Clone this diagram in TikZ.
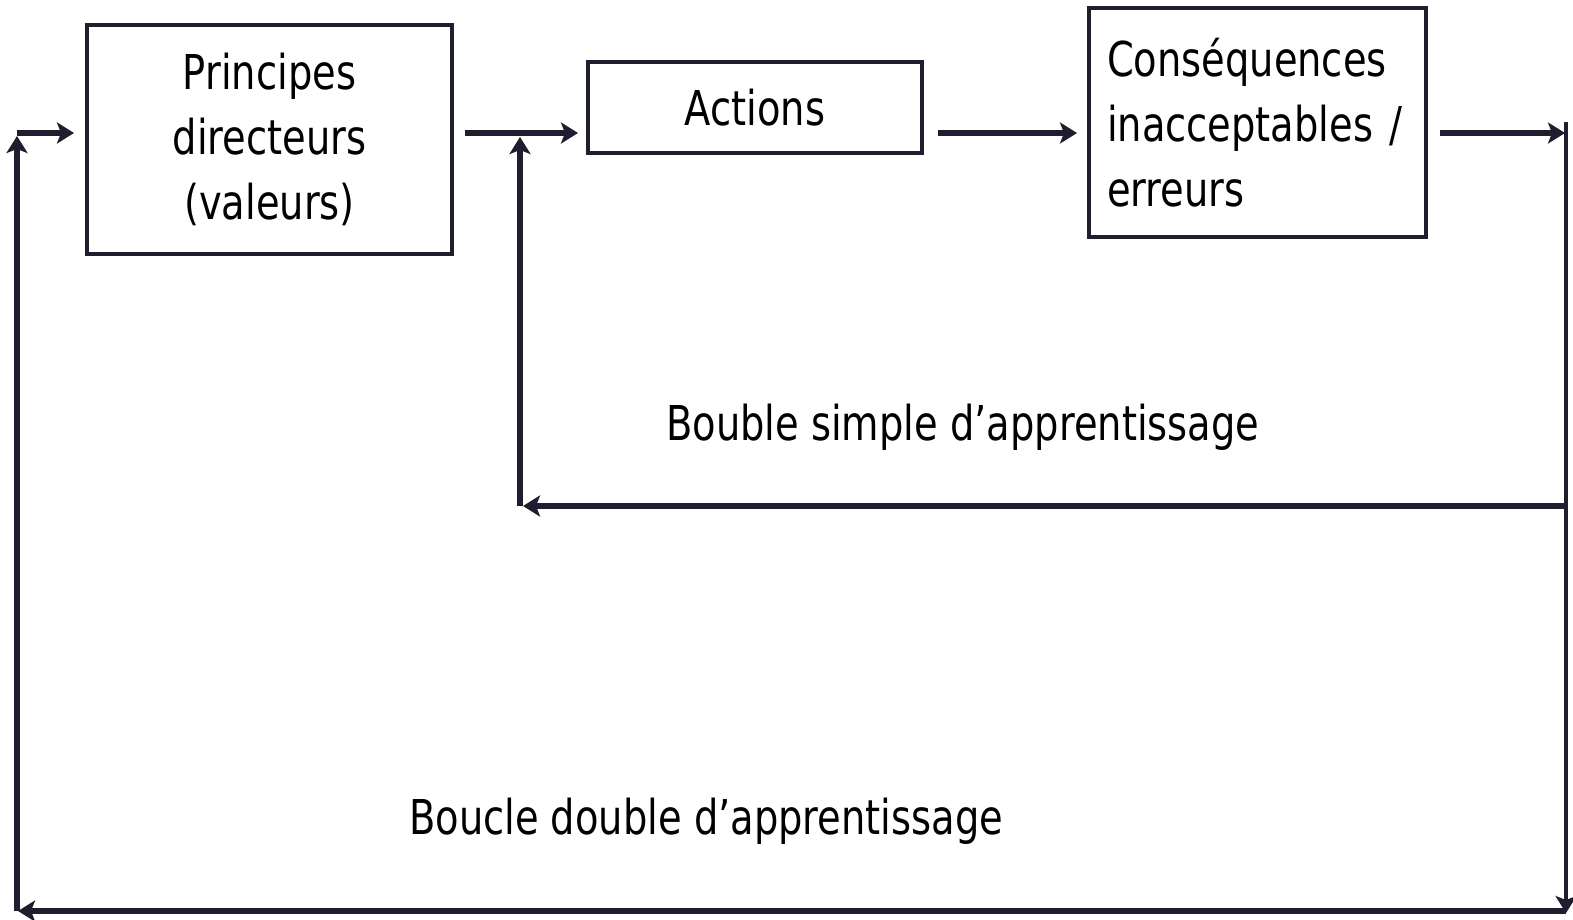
\documentclass[tikz,border=0pt]{standalone}
\usepackage{fontspec}
\setmainfont{DejaVu Sans}[FakeStretch=0.8]
\usetikzlibrary{arrows.meta}
\definecolor{ink}{RGB}{33,28,48}
\begin{document}
\begin{tikzpicture}[x=1pt,y=-1pt,
  txt/.style={font=\fontsize{48}{65}\selectfont, text=black},
  box/.style={txt, draw=ink, line width=4.5pt, inner sep=0pt},
  tip/.style={-{Stealth[length=17pt,width=21pt,inset=4pt]}},
  flow/.style={tip, draw=ink, line width=6.5pt},
  rail/.style={tip, draw=ink, line width=4.5pt},
  lbl/.style={txt, anchor=base west, inner sep=0pt}]
\useasboundingbox (0,0) rectangle (1573,919);

% the three stages
\node[box, minimum width=365pt, minimum height=229pt, align=center]
  (pd) at (269.5,139.5) {Principes\\directeurs\\(valeurs)};
\node[box, minimum width=334pt, minimum height=91pt]
  (ac) at (755,107.5) {Actions};
\node[box, minimum width=337pt, minimum height=229pt, align=left, text width=301pt]
  (cq) at (1257.5,122.5) {Conséquences\\inacceptables /\\erreurs};

% junction points of the feedback loops
\coordinate (inL)  at (17,133);
\coordinate (inP)  at (74,133);
\coordinate (outP) at (465,133);
\coordinate (inA)  at (578,133);
\coordinate (outA) at (938,133);
\coordinate (inC)  at (1077,133);
\coordinate (outC) at (1440,133);
\coordinate (endC) at (1565,133);
\coordinate (rTop) at (1566,122);
\coordinate (rBot) at (1566,913);
\coordinate (rMid) at (1566,506);
\coordinate (bR)   at (1566,911);
\coordinate (bL)   at (18,911);
\coordinate (lBot) at (17,911);
\coordinate (lTop) at (17,136);
\coordinate (sR)   at (523,506);
\coordinate (sBot) at (520,506);
\coordinate (sTop) at (520,137);

% main chain
\draw[flow] (inL) -- (inP);
\draw[flow] (outP) -- (inA);
\draw[flow] (outA) -- (inC);
\draw[flow] (outC) -- (endC);

% right-hand return rail
\draw[rail] (rTop) -- (rBot);

% single loop
\draw[flow] (rMid) -- (sR);
\draw[flow] (sBot) -- (sTop);

% double loop
\draw[flow] (bR) -- (bL);
\draw[flow] (lBot) -- (lTop);

% loop labels
\node[lbl] (single) at (666,440) {Bouble simple d’apprentissage};
\node[lbl] (double) at (409,834) {Boucle double d’apprentissage};
\end{tikzpicture}
\end{document}
